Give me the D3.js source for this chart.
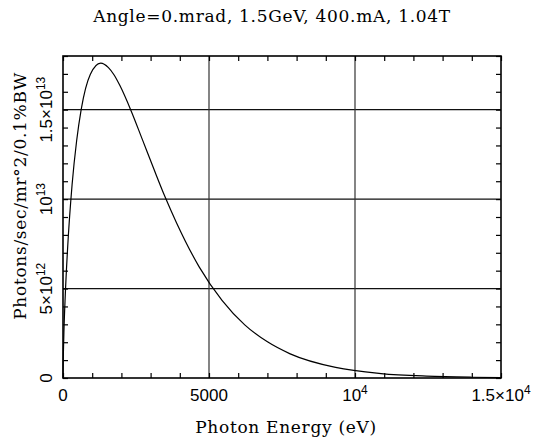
<!DOCTYPE html>
<html>
<head>
<meta charset="utf-8">
<script src="https://cdn.jsdelivr.net/npm/d3@7"></script>
<style>
  body { margin: 0; background: #fff; }
  svg text { fill: #000; }
  .serif { font-family: "DejaVu Serif", "Liberation Serif", serif; font-size: 17px; letter-spacing: 0.7px; }
  .tick-lbl { font-family: "Liberation Sans", Arial, sans-serif; font-size: 17px; }
</style>
</head>
<body>
<svg id="chart" width="535" height="440"></svg>
<script>
// photon energy (eV) and on-axis flux (units of 1e12 photons/sec/mr^2/0.1%BW)
var energy = [0, 3, 8, 16, 31, 78, 156, 311, 467, 622, 934, 1291, 1556, 1751, 1945, 2334, 2723, 3112, 3501, 3890, 4668, 5446, 6224, 7002, 7780, 9336, 10892, 12448, 14004, 15000];
var flux   = [0, 0.55, 1.01, 1.6, 2.55, 4.64, 7.2, 10.8, 13.26, 15.0, 16.97, 17.6, 17.35, 16.94, 16.36, 14.93, 13.31, 11.68, 10.1, 8.67, 6.2, 4.34, 2.97, 2.02, 1.35, 0.59, 0.25, 0.105, 0.043, 0.024];

var xMinor = d3.range(0, 15001, 1000);
var yMinor = d3.range(0, 18.01, 1);
var xGrid = [5000, 10000];
var yGrid = [5, 10, 15];
var xLabels = [
  {v: 0, base: "0", sup: ""},
  {v: 5000, base: "5000", sup: ""},
  {v: 10000, base: "10", sup: "4"},
  {v: 15000, base: "1.5\u00d710", sup: "4"}
];
var yLabels = [
  {v: 0, base: "0", sup: ""},
  {v: 5, base: "5\u00d710", sup: "12"},
  {v: 10, base: "10", sup: "13"},
  {v: 15, base: "1.5\u00d710", sup: "13"}
];

var width = 535, height = 440;
var margin = {top: 56, right: 34, bottom: 62, left: 63};

var svg = d3.select("#chart");

var x = d3.scaleLinear().domain([0, 15000]).range([margin.left, width - margin.right]);
var y = d3.scaleLinear().domain([0, 18]).range([height - margin.bottom, margin.top]);

// grid lines
svg.append("g")
  .selectAll("line")
  .data(yGrid)
  .join("line")
    .attr("x1", x(0)).attr("x2", x(15000))
    .attr("y1", d => y(d)).attr("y2", d => y(d))
    .attr("stroke", "#111").attr("stroke-width", 1.2);

svg.append("g")
  .selectAll("line")
  .data(xGrid)
  .join("line")
    .attr("x1", d => x(d)).attr("x2", d => x(d))
    .attr("y1", y(0)).attr("y2", y(18))
    .attr("stroke", "#333").attr("stroke-width", 1.2);

// inward ticks on all four sides
function ticks(axis) {
  return g => g.call(axis)
    .call(g => g.select(".domain").remove())
    .call(g => g.selectAll(".tick line").attr("stroke", "#000").attr("stroke-width", 1.2))
    .call(g => g.selectAll(".tick text").remove());
}

svg.append("g")
  .attr("transform", `translate(0,${y(0)})`)
  .call(ticks(d3.axisBottom(x).tickValues(xMinor).tickSize(-5)));
svg.append("g")
  .attr("transform", `translate(0,${y(18)})`)
  .call(ticks(d3.axisTop(x).tickValues(xMinor).tickSize(-5)));
svg.append("g")
  .attr("transform", `translate(${x(0)},0)`)
  .call(ticks(d3.axisLeft(y).tickValues(yMinor).tickSize(-5)));
svg.append("g")
  .attr("transform", `translate(${x(15000)},0)`)
  .call(ticks(d3.axisRight(y).tickValues(yMinor).tickSize(-5)));

// frame
svg.append("rect")
  .attr("x", x(0)).attr("y", y(18))
  .attr("width", x(15000) - x(0)).attr("height", y(0) - y(18))
  .attr("fill", "none").attr("stroke", "#000").attr("stroke-width", 1.6);

// curve
var pts = energy.map((e, i) => [e, flux[i]]);
var line = d3.line()
  .x(d => x(d[0]))
  .y(d => y(d[1]))
  .curve(d3.curveMonotoneX);

svg.append("path")
  .datum(pts)
  .attr("d", line)
  .attr("fill", "none")
  .attr("stroke", "#000")
  .attr("stroke-width", 1.2);

// tick labels
function addLabel(sel, d) {
  sel.append("tspan").text(d.base);
  if (d.sup) {
    sel.append("tspan").attr("dy", -7).style("font-size", "12px").text(d.sup);
  }
}

svg.append("g")
  .selectAll("text")
  .data(xLabels)
  .join("text")
    .attr("class", "tick-lbl")
    .attr("x", d => x(d.v))
    .attr("y", 401)
    .attr("text-anchor", "middle")
    .each(function(d) { addLabel(d3.select(this), d); });

svg.append("g")
  .selectAll("text")
  .data(yLabels)
  .join("text")
    .attr("class", "tick-lbl")
    .attr("transform", d => `translate(52,${y(d.v)}) rotate(-90)`)
    .attr("text-anchor", "middle")
    .each(function(d) { addLabel(d3.select(this), d); });

// titles
svg.append("text")
  .attr("class", "serif")
  .attr("x", 272).attr("y", 22)
  .attr("text-anchor", "middle")
  .text("Angle=0.mrad, 1.5GeV, 400.mA, 1.04T");

svg.append("text")
  .attr("class", "serif")
  .attr("x", 286).attr("y", 433)
  .attr("text-anchor", "middle")
  .text("Photon Energy (eV)");

svg.append("text")
  .attr("class", "serif")
  .attr("transform", "translate(26,196) rotate(-90)")
  .attr("text-anchor", "middle")
  .text("Photons/sec/mr\u00b02/0.1%BW");
</script>
</body>
</html>
